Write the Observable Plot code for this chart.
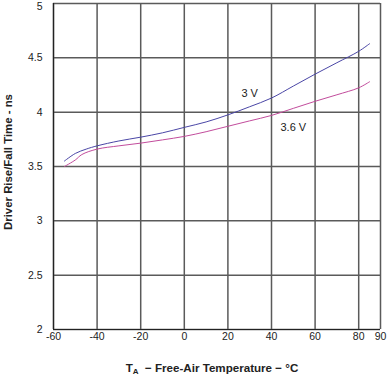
<!DOCTYPE html>
<html>
<head>
<meta charset="utf-8">
<script src="https://cdn.jsdelivr.net/npm/d3@7"></script>
<script src="https://cdn.jsdelivr.net/npm/@observablehq/plot@0.6"></script>
<style>
  html, body { margin: 0; padding: 0; background: #fff; }
  #chart { width: 389px; height: 375px; }
</style>
</head>
<body>
<div id="chart"></div>
<script>
// Temperature (°C)
const temps3V = [-55, -50, -45, -40, -30, -20, -10, 0, 10, 20, 30, 40, 50, 60, 70, 80, 85];
const rise3V  = [3.55, 3.62, 3.66, 3.69, 3.735, 3.77, 3.81, 3.86, 3.91, 3.975, 4.05, 4.13, 4.24, 4.35, 4.455, 4.56, 4.63];
const temps36V = [-55, -50, -47, -40, -30, -20, -10, 0, 10, 20, 30, 40, 50, 60, 70, 80, 85];
const rise36V  = [3.50, 3.56, 3.61, 3.66, 3.69, 3.715, 3.745, 3.777, 3.82, 3.87, 3.92, 3.97, 4.035, 4.10, 4.16, 4.224, 4.28];
const xTicks = [-60, -40, -20, 0, 20, 40, 60, 80, 90];
const yTicks = [2, 2.5, 3, 3.5, 4, 4.5, 5];
const seriesLabels = ["3 V", "3.6 V"];
const labelTemps = [30, 50];
const labelValues = [4.175, 3.86];

const colors = ["#4a46a6", "#c24c9c"];

const s3 = temps3V.map((t, i) => ({t, v: rise3V[i]}));
const s36 = temps36V.map((t, i) => ({t, v: rise36V[i]}));
const labs = seriesLabels.map((s, i) => ({s, t: labelTemps[i], v: labelValues[i]}));
const yMax = yTicks[yTicks.length - 1];

const chart = Plot.plot({
  width: 389,
  height: 375,
  marginLeft: 53,
  marginRight: 9,
  marginTop: 3,
  marginBottom: 46,
  style: {fontFamily: "'Liberation Sans', Arial, sans-serif", fontSize: "10.5px", color: "#222", background: "#fff"},
  x: {domain: [-60, 90], ticks: xTicks, label: null},
  y: {domain: [2, 5], ticks: yTicks, label: null},
  marks: [
    Plot.gridX(xTicks, {stroke: "#5a5a5a", strokeOpacity: 1, strokeWidth: 1.5}),
    Plot.gridY(yTicks, {stroke: "#5a5a5a", strokeOpacity: 1, strokeWidth: 1.5}),
    Plot.ruleX([-60], {stroke: "#222", strokeWidth: 1.2}),
    Plot.ruleY([2], {stroke: "#222", strokeWidth: 1.2}),
    Plot.axisX({ticks: xTicks, tickSize: 0, tickPadding: 3, tickFormat: d => String(d), label: null}),
    Plot.axisY({ticks: yTicks.filter(d => d !== yMax), tickSize: 0, tickPadding: 11, tickFormat: d => String(d), label: null}),
    Plot.axisY({ticks: [yMax], tickSize: 0, tickPadding: 11, dy: 3.5, tickFormat: d => String(d), label: null}),
    Plot.line(s3, {x: "t", y: "v", stroke: colors[0], strokeWidth: 1, curve: "catmull-rom"}),
    Plot.line(s36, {x: "t", y: "v", stroke: colors[1], strokeWidth: 1, curve: "catmull-rom"}),
    Plot.text(labs, {x: "t", y: "v", text: "s", fill: "#222", fontSize: 11})
  ]
});
document.getElementById("chart").appendChild(chart);

// Axis titles
const svg = d3.select(chart);
const xt = svg.append("text")
  .attr("x", 212).attr("y", 372)
  .attr("text-anchor", "middle")
  .attr("font-family", "'Liberation Sans', Arial, sans-serif")
  .attr("font-weight", "bold").attr("font-size", 11.6).attr("fill", "#222")
  .attr("xml:space", "preserve");
xt.append("tspan").text("T");
xt.append("tspan").attr("font-size", 8).attr("dy", 2).text("A");
xt.append("tspan").attr("dy", -2).text("\u00a0\u00a0\u2212 Free-Air Temperature \u2212 °C");

svg.append("text")
  .attr("transform", "translate(12,162) rotate(-90)")
  .attr("text-anchor", "middle")
  .attr("font-family", "'Liberation Sans', Arial, sans-serif")
  .attr("font-weight", "bold").attr("font-size", 11.4).attr("fill", "#222")
  .text("Driver Rise/Fall Time - ns");
</script>
</body>
</html>
